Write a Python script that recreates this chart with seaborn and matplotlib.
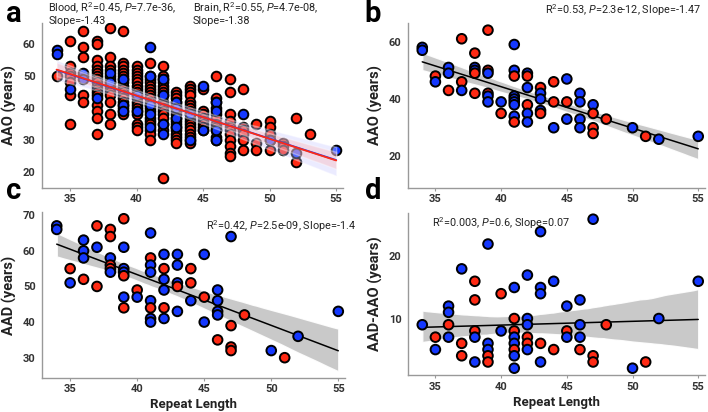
import numpy as np
import pandas as pd
import seaborn as sns
import matplotlib.pyplot as plt

sns.set_theme(style="white")
plt.rcParams['font.family'] = ['Roboto', 'DejaVu Sans']
plt.rcParams['mathtext.fontset'] = 'custom'
plt.rcParams['mathtext.rm'] = 'Roboto'
plt.rcParams['mathtext.it'] = 'Roboto:italic'

RED = '#ff2a14'
BLUE = '#1438ff'

# ---- panel a: blood (red) and brain (blue) AAO by repeat length
blood_lengths = [34, 35, 36, 37, 38, 39, 40, 41, 42, 43, 44, 45, 46, 47, 48, 49, 50, 51, 52, 53]
blood_counts = [1, 7, 6, 17, 14, 18, 19, 19, 17, 17, 18, 8, 11, 11, 6, 3, 5, 3, 2, 1]
blood_aao = [50,
             61, 53, 51, 50, 48, 44, 35,
             64, 59, 56, 50, 44, 42,
             61, 60, 55, 53, 52, 51, 50, 49, 48, 47, 46, 45, 44, 41, 39, 37, 32,
             65, 56, 53, 52, 50, 49, 48, 47, 46, 45, 44, 42, 38, 35,
             64, 54, 53, 52, 51, 50, 49, 48, 47, 46, 45, 44, 43, 42, 41, 40, 39, 38,
             53, 52, 51, 50, 49, 48, 47, 46, 45, 44, 43, 42, 41, 40, 39, 38, 35, 34, 33,
             54, 50, 49, 48, 47, 46, 45, 44, 43, 42, 41, 40, 39, 37, 36, 35, 33, 32, 30,
             53, 50, 49, 48, 47, 46, 45, 44, 42, 41, 40, 39, 38, 37, 35, 33, 18,
             45, 44, 43, 42, 41, 40, 39, 38, 37, 36, 35, 34, 33, 32, 31, 30, 29,
             47, 46, 45, 44, 42, 41, 40, 39, 38, 37, 36, 35, 34, 33, 32, 31, 30, 29,
             46, 39, 38, 37, 36, 35, 34, 33,
             50, 43, 42, 40, 38, 37, 35, 34, 33, 31, 30,
             49, 45, 38, 36, 34, 33, 32, 30, 28, 26, 25,
             46, 34, 33, 32, 30, 27,
             35, 29, 27,
             36, 34, 32, 30, 27,
             29, 28, 27,
             37, 23,
             32]

brain_lengths = [34, 35, 36, 37, 38, 39, 40, 41, 42, 43, 44, 45, 46, 48, 50, 52, 55]
brain_counts = [2, 1, 2, 1, 2, 3, 2, 5, 4, 4, 2, 2, 4, 1, 1, 1, 1]
brain_aao = [58, 57, 46, 51, 49, 43, 51, 48, 49, 41, 39, 44, 39,
             59, 50, 41, 38, 34, 49, 44, 35, 32, 42, 40, 37, 34,
             38, 30, 47, 33, 42, 39, 33, 30, 38, 30, 26, 27]

# ---- panels b-d: brain cohort, group 0 = red, 1 = blue
b_len = [34, 34, 35, 35, 36, 36, 36, 37, 37, 37, 38, 38, 38, 38, 38,
         39, 39, 39, 39, 39, 39, 40, 40, 41, 41, 41, 41, 41, 41, 41, 41, 41,
         42, 42, 42, 42, 42, 42, 43, 43, 43, 43, 43, 44, 44, 44, 45, 45, 45,
         46, 46, 46, 46, 47, 47, 47, 47, 48, 50, 51, 52, 55]
b_aao = [58, 57, 48, 46, 51, 49, 43, 61, 46, 43, 56, 51, 50, 49, 42,
         64, 50, 49, 42, 41, 39, 39, 35, 59, 50, 48, 41, 40, 39, 38, 34, 32,
         49, 48, 44, 38, 35, 32, 44, 42, 40, 36, 35, 46, 39, 30, 47, 39, 33,
         42, 39, 33, 30, 38, 35, 30, 28, 33, 30, 27, 26, 27]
b_grp = [1, 1, 0, 1, 1, 1, 0, 0, 0, 1, 0, 1, 1, 0, 0,
         0, 0, 1, 0, 1, 1, 1, 0, 1, 1, 0, 1, 1, 1, 1, 1, 0,
         1, 0, 1, 0, 1, 1, 0, 1, 1, 1, 0, 0, 0, 1, 1, 0, 1,
         1, 1, 1, 1, 1, 0, 0, 0, 0, 1, 0, 1, 1]

c_len = [34, 34, 35, 35, 36, 36, 36, 36, 37, 37, 37, 38, 38, 38, 38, 38, 38,
         39, 39, 39, 39, 39, 39, 39, 40, 40, 41, 41, 41, 41, 41, 41, 41, 41,
         42, 42, 42, 42, 42, 42, 43, 43, 43, 43, 43, 44, 44, 44, 45, 45, 45,
         46, 46, 46, 46, 46, 47, 47, 47, 47, 48, 50, 51, 52, 55]
c_aad = [67, 66, 55, 51, 63, 60, 58, 52, 67, 61, 50, 66, 64, 58, 56, 55, 54,
         69, 61, 55, 54, 53, 47, 44, 49, 47, 65, 58, 56, 54, 46, 44, 41, 40,
         59, 55, 52, 49, 44, 41, 59, 56, 51, 50, 43, 55, 51, 46, 59, 47, 40,
         49, 46, 43, 42, 35, 64, 39, 33, 32, 42, 32, 30, 36, 43]
c_grp = [1, 1, 0, 1, 1, 1, 1, 0, 0, 1, 0, 0, 0, 1, 0, 0, 1,
         0, 1, 1, 1, 0, 1, 0, 0, 1, 1, 0, 1, 1, 1, 0, 1, 1,
         1, 0, 1, 1, 0, 1, 1, 1, 1, 0, 1, 0, 0, 1, 1, 0, 1,
         1, 1, 1, 1, 0, 1, 0, 0, 0, 0, 1, 0, 1, 1]

d_len = [34, 35, 35, 36, 36, 36, 36, 37, 37, 37, 38, 38, 38, 38, 38,
         39, 39, 39, 39, 39, 40, 40, 41, 41, 41, 41, 41, 41, 41, 41,
         42, 42, 42, 42, 42, 42, 43, 43, 43, 43, 43, 44, 44, 45, 45, 45,
         46, 46, 46, 46, 47, 47, 47, 48, 50, 51, 52, 55]
d_diff = [9, 7, 5, 12, 11, 9, 7, 18, 6, 4, 16, 13, 8, 7, 3,
          22, 6, 5, 4, 3, 14, 8, 15, 10, 8, 7, 6, 5, 4, 2,
          17, 10, 9, 7, 6, 5, 24, 15, 14, 6, 3, 16, 5, 12, 8, 7,
          13, 9, 7, 5, 26, 4, 3, 9, 2, 3, 10, 16]
d_grp = [1, 0, 1, 1, 1, 0, 1, 1, 0, 0, 0, 0, 0, 1, 1,
         1, 1, 1, 0, 0, 0, 1, 1, 0, 0, 1, 1, 0, 1, 1,
         1, 1, 1, 0, 0, 1, 1, 1, 1, 0, 1, 1, 0, 1, 0, 1,
         1, 1, 1, 0, 1, 0, 0, 0, 1, 0, 1, 1]

blood = pd.DataFrame({'len': np.repeat(blood_lengths, blood_counts), 'aao': blood_aao})
brain = pd.DataFrame({'len': np.repeat(brain_lengths, brain_counts), 'aao': brain_aao})

fig = plt.figure(figsize=(7.08, 4.12), dpi=100)
ax_a = fig.add_axes([0.0593, 0.5437, 0.425, 0.4005])
ax_b = fig.add_axes([0.576, 0.5437, 0.4195, 0.4005])
ax_c = fig.add_axes([0.0593, 0.0825, 0.428, 0.403])
ax_d = fig.add_axes([0.576, 0.089, 0.4195, 0.394])

pt = dict(s=48, edgecolor='black', linewidth=1.4, legend=False, zorder=3)


def style(ax, ylabel, xlabel, ylim, yticks):
    ax.set_xlim(32.9, 55.5)
    ax.set_ylim(*ylim)
    ax.set_xticks([35, 40, 45, 50, 55])
    ax.set_yticks(yticks)
    ax.set_ylabel(ylabel, fontsize=10.5, fontweight='bold', color='#222222', labelpad=4)
    ax.set_xlabel(xlabel, fontsize=9.5, fontweight='bold', color='#222222', labelpad=3)
    ax.tick_params(axis='both', labelsize=8, colors='#333333', length=2.5, width=0.8,
                   color='#999999', pad=2, bottom=True)
    for lab in ax.get_xticklabels() + ax.get_yticklabels():
        lab.set_fontweight('bold')
    for side in ['top', 'right']:
        ax.spines[side].set_visible(False)
    for side in ['left', 'bottom']:
        ax.spines[side].set_color('#999999')
        ax.spines[side].set_linewidth(1.0)


# panel a
sns.scatterplot(data=blood, x='len', y='aao', color=RED, ax=ax_a, **pt)
sns.scatterplot(data=brain, x='len', y='aao', color=BLUE, ax=ax_a, **pt)
ax_a.set_xlim(34, 55)
sns.regplot(data=brain, x='len', y='aao', scatter=False, ax=ax_a, color=BLUE, truncate=False,
            line_kws=dict(lw=1.3, zorder=5))
sns.regplot(data=blood, x='len', y='aao', scatter=False, ax=ax_a, color=RED, truncate=False,
            line_kws=dict(lw=1.3, zorder=5))
ax_a.collections[2].set_facecolor('#c8c8ff')
ax_a.collections[3].set_facecolor('#ffb0b0')
for coll in ax_a.collections[2:]:
    coll.set_alpha(0.35)
    coll.set_zorder(4)
style(ax_a, 'AAO (years)', '', (15, 66.6), [20, 30, 40, 50, 60])

# panels b-d
pal = {0: RED, 1: BLUE}
panels = [
    (ax_b, b_len, b_aao, b_grp, 'AAO (years)', '', (9, 66.5), [20, 40, 60]),
    (ax_c, c_len, c_aad, c_grp, 'AAD (years)', 'Repeat Length', (24.3, 70.9), [30, 40, 50, 60, 70]),
    (ax_d, d_len, d_diff, d_grp, 'AAD-AAO (years)', 'Repeat Length', (0.85, 27), [10, 20]),
]
for ax, xs, ys, gs, ylab, xlab, ylim, yt in panels:
    df = pd.DataFrame({'len': xs, 'val': ys, 'grp': gs})
    sns.scatterplot(data=df, x='len', y='val', hue='grp', palette=pal, ax=ax, **pt)
    sns.regplot(data=df, x='len', y='val', scatter=False, ax=ax, color='black',
                line_kws=dict(lw=1.1, zorder=2))
    ax.collections[-1].set_facecolor('#c4c4c4')
    ax.collections[-1].set_alpha(0.9)
    ax.collections[-1].set_zorder(1)
    style(ax, ylab, xlab, ylim, yt)

# annotations
ann = dict(fontsize=7.8, color='#222222')
fig.text(0.068, 0.998, 'Blood, R$^{2}$=0.45, $\\it{P}$=7.7e-36,\nSlope=-1.43', va='top',
         linespacing=0.95, **ann)
fig.text(0.272, 0.998, 'Brain, R$^{2}$=0.55, $\\it{P}$=4.7e-08,\nSlope=-1.38', va='top',
         linespacing=0.95, **ann)
fig.text(0.77, 0.995, 'R$^{2}$=0.53, $\\it{P}$=2.3e-12, Slope=-1.47', va='top', **ann)
ax_c.text(0.54, 0.96, 'R$^{2}$=0.42, $\\it{P}$=2.5e-09, Slope=-1.4', transform=ax_c.transAxes,
          va='top', **ann)
ax_d.text(0.08, 0.985, 'R$^{2}$=0.003, $\\it{P}$=0.6, Slope=0.07', transform=ax_d.transAxes,
          va='top', **ann)

lab = dict(fontsize=21, fontweight='bold', color='black', va='top')
fig.text(0.008, 1.0, 'a', **lab)
fig.text(0.008, 0.57, 'c', **lab)
fig.text(0.515, 1.0, 'b', **lab)
fig.text(0.515, 0.57, 'd', **lab)

fig.savefig('out.png', dpi=100)
